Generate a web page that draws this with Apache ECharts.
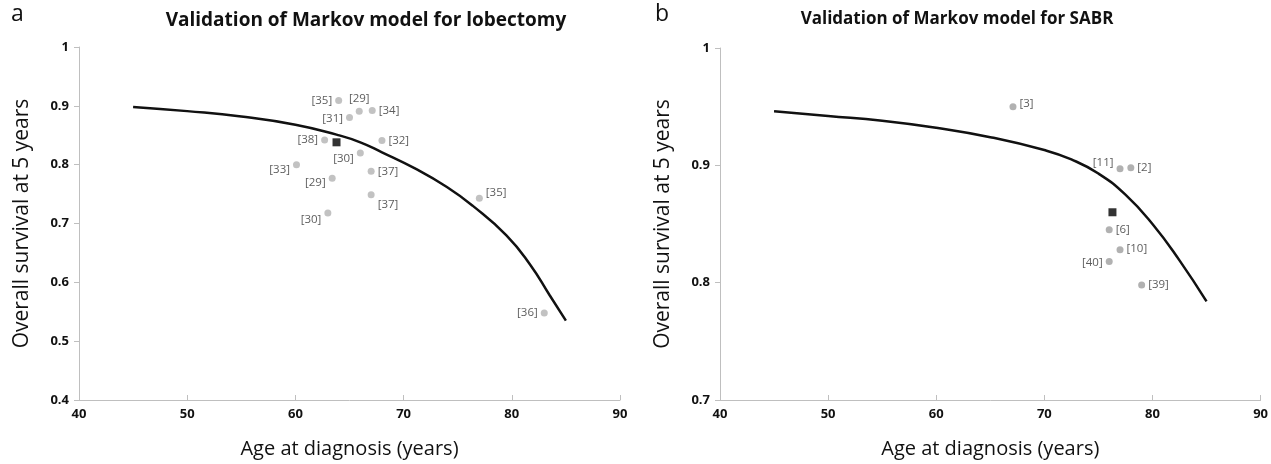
<!DOCTYPE html>
<html>
<head>
<meta charset="utf-8">
<script src="https://cdn.jsdelivr.net/npm/echarts@6/dist/echarts.min.js"></script>
<style>
  html, body { margin: 0; padding: 0; background: #fff; }
  #chart { width: 1271px; height: 464px; }
</style>
</head>
<body>
<div id="chart"></div>
<script>
// panel a: lobectomy
const lobModelAge = [45, 50, 55, 60, 63.8, 66, 68, 71, 74, 76.4, 79.5, 81.7, 83.5, 85]
const lobModelOs = [0.898, 0.891, 0.882, 0.868, 0.851, 0.838, 0.821, 0.794, 0.762, 0.730, 0.680, 0.630, 0.578, 0.535]
const lobStudyAge = [64.0, 65.9, 67.1, 65.0, 62.7, 68.0, 66.0, 60.1, 67.0, 63.4, 67.0, 63.0, 77.0, 83.0]
const lobStudyOs = [0.909, 0.891, 0.892, 0.880, 0.842, 0.841, 0.820, 0.800, 0.789, 0.777, 0.749, 0.718, 0.743, 0.548]
const lobStudyRef = ['[35]', '[29]', '[34]', '[31]', '[38]', '[32]', '[30]', '[33]', '[37]', '[29]', '[37]', '[30]', '[35]', '[36]']
const lobOwn = [63.8, 0.838]

// panel b: SABR
const sabrModelAge = [45, 50, 55, 60, 65, 70, 72.5, 75, 77.5, 80, 82.5, 85]
const sabrModelOs = [0.946, 0.942, 0.938, 0.932, 0.924, 0.913, 0.905, 0.893, 0.875, 0.850, 0.819, 0.784]
const sabrStudyAge = [67.1, 77.0, 78.0, 76.0, 77.0, 76.0, 79.0]
const sabrStudyOs = [0.950, 0.897, 0.898, 0.845, 0.828, 0.818, 0.798]
const sabrStudyRef = ['[3]', '[11]', '[2]', '[6]', '[10]', '[40]', '[39]']
const sabrOwn = [76.3, 0.860]

const xTicks = { min: 40, max: 90, interval: 10 }

// where each reference label sits relative to its dot
const lobLabelSide = ['left', 'top', 'right', 'left', 'left', 'right', 'left', 'left', 'right', 'left', 'right', 'left', 'right', 'left']
const lobLabelDy = [0, 0, 0, 1, 0, 0, 6, 5, 1, 5, 10, 7, -5, 0]
const sabrLabelSide = ['right', 'left', 'right', 'right', 'right', 'left', 'right']
const sabrLabelDy = [-3, -6, 0, 0, -1, 1, 0]

const tickFont = { color: '#111', fontWeight: 'bold', fontSize: 13, fontFamily: 'Open Sans' }

function studyPoints(ages, os, refs, sides, dys) {
  return ages.map((a, i) => ({
    value: [a, os[i]],
    label: {
      show: true,
      formatter: refs[i],
      position: sides[i],
      distance: 3,
      offset: [0, dys[i]]
    }
  }))
}

function xAxisOf(idx) {
  return {
    type: 'value',
    gridIndex: idx,
    min: xTicks.min,
    max: xTicks.max,
    interval: xTicks.interval,
    name: 'Age at diagnosis (years)',
    nameLocation: 'middle',
    nameGap: 39,
    nameTextStyle: { color: '#111', fontSize: 20, fontFamily: 'Open Sans' },
    axisLine: { lineStyle: { color: '#bfbfbf', width: 1 } },
    axisTick: { show: true, inside: true, length: 5, lineStyle: { color: '#bfbfbf' } },
    axisLabel: Object.assign({ margin: 8 }, tickFont),
    splitLine: { show: false }
  }
}

function yAxisOf(idx, min) {
  return {
    type: 'value',
    gridIndex: idx,
    min: min,
    max: 1,
    interval: 0.1,
    name: 'Overall survival at 5 years',
    nameLocation: 'middle',
    nameRotate: 90,
    nameGap: 46,
    nameTextStyle: { color: '#111', fontSize: 21, fontFamily: 'Open Sans' },
    axisLine: { show: true, lineStyle: { color: '#bfbfbf', width: 1 } },
    axisTick: { show: true, length: 5, lineStyle: { color: '#bfbfbf' } },
    axisLabel: Object.assign({ margin: 10, formatter: v => String(+v.toFixed(1)) }, tickFont),
    splitLine: { show: false }
  }
}

const labelStyle = { fontSize: 11.5, color: '#333', fontFamily: 'Open Sans' }

const chart = echarts.init(document.getElementById('chart'))
chart.setOption({
  animation: false,
  backgroundColor: '#fff',
  title: [
    {
      text: 'Validation of Markov model for lobectomy',
      left: 361, top: 6, textAlign: 'center',
      textStyle: { fontSize: 19, fontWeight: 'bold', color: '#111', fontFamily: 'Open Sans' }
    },
    {
      text: 'Validation of Markov model for SABR',
      left: 952, top: 6, textAlign: 'center',
      textStyle: { fontSize: 17, fontWeight: 'bold', color: '#111', fontFamily: 'Open Sans' }
    }
  ],
  graphic: [
    { type: 'text', left: 11, top: 3, style: { text: 'a', fontSize: 23, fill: '#111', fontFamily: 'Open Sans' } },
    { type: 'text', left: 655, top: 3, style: { text: 'b', fontSize: 23, fill: '#111', fontFamily: 'Open Sans' } }
  ],
  grid: [
    { left: 79, right: 651, top: 47, bottom: 62 },
    { left: 720, right: 10, top: 48, bottom: 62 }
  ],
  xAxis: [xAxisOf(0), xAxisOf(1)],
  yAxis: [yAxisOf(0, 0.4), yAxisOf(1, 0.7)],
  series: [
    {
      type: 'line',
      xAxisIndex: 0, yAxisIndex: 0,
      data: lobModelAge.map((a, i) => [a, lobModelOs[i]]),
      smooth: 0.5,
      showSymbol: false,
      lineStyle: { color: '#111', width: 2.5 }
    },
    {
      type: 'scatter',
      xAxisIndex: 0, yAxisIndex: 0,
      symbolSize: 7,
      itemStyle: { color: '#b3b3b3' },
      label: labelStyle,
      data: studyPoints(lobStudyAge, lobStudyOs, lobStudyRef, lobLabelSide, lobLabelDy)
    },
    {
      type: 'scatter',
      xAxisIndex: 0, yAxisIndex: 0,
      symbol: 'rect',
      symbolSize: 8,
      itemStyle: { color: '#000' },
      data: [lobOwn]
    },
    {
      type: 'line',
      xAxisIndex: 1, yAxisIndex: 1,
      data: sabrModelAge.map((a, i) => [a, sabrModelOs[i]]),
      smooth: 0.5,
      showSymbol: false,
      lineStyle: { color: '#111', width: 2.5 }
    },
    {
      type: 'scatter',
      xAxisIndex: 1, yAxisIndex: 1,
      symbolSize: 7,
      itemStyle: { color: '#9e9e9e' },
      label: labelStyle,
      data: studyPoints(sabrStudyAge, sabrStudyOs, sabrStudyRef, sabrLabelSide, sabrLabelDy)
    },
    {
      type: 'scatter',
      xAxisIndex: 1, yAxisIndex: 1,
      symbol: 'rect',
      symbolSize: 8,
      itemStyle: { color: '#000' },
      data: [sabrOwn]
    }
  ]
})
</script>
</body>
</html>
